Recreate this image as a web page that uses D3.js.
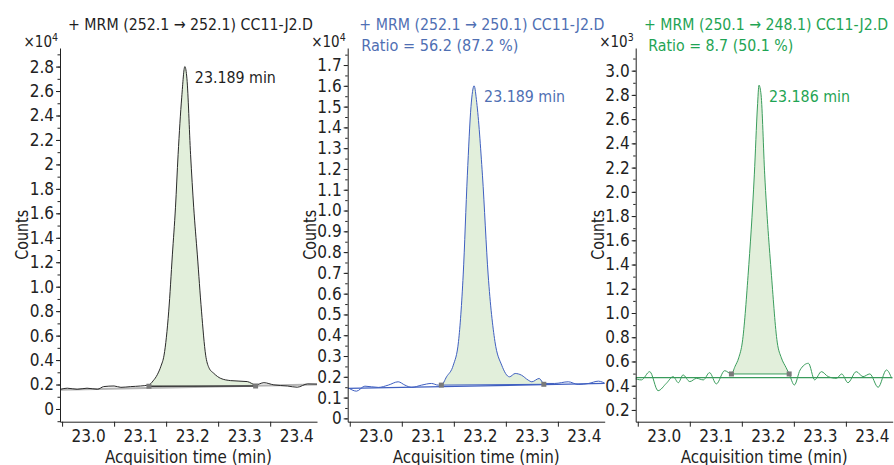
<!DOCTYPE html>
<html>
<head>
<meta charset="utf-8">
<script src="https://cdn.jsdelivr.net/npm/d3@7"></script>
<style>
body{margin:0;background:#fff;}
text{font-family:"Liberation Sans Narrow","DejaVu Sans Condensed","Arial Narrow",sans-serif;}
</style>
</head>
<body>
<svg id="mainSvg" width="894" height="465"></svg>
<script>
// shared x axis
var timeDomain = [22.946, 23.44];
var xTickValues = [23.0, 23.1, 23.2, 23.3, 23.4];
var xTickLabels = ["23.0", "23.1", "23.2", "23.3", "23.4"];
var xMinorTicks = [22.95, 23.05, 23.15, 23.25, 23.35];

// panel 1 : 252.1 -> 252.1
var titles1 = ["+ MRM (252.1 \u2192 252.1) CC11-J2.D"];
var times1 = [22.947,22.96,22.979,22.998,23.018,23.03,23.05,23.063,23.082,23.101,23.117,23.125,23.133,23.14,23.146,23.155,23.162,23.168,23.173,23.18,23.186,23.19,23.197,23.203,23.21,23.218,23.226,23.232,23.242,23.255,23.274,23.306,23.322,23.338,23.357,23.383,23.402,23.422,23.443];
var counts1 = [1610,1700,1610,1700,1610,1830,1880,1770,1830,1880,1970,2300,2800,3500,4400,8000,12600,16500,20800,25500,28000,27000,20800,16500,12600,8000,4400,3400,2900,2500,2320,2240,1970,2150,1970,1880,1780,2050,2030];
var baseline1 = [[22.946, 1580], [23.44, 2000]];
var integration1 = [[23.117, 1860], [23.322, 1880]];
var peak1 = {time: 23.186, count: 28000, label: "23.189 min"};
var yDomain1 = [-1040, 29520];
var yTicks1 = [0,2000,4000,6000,8000,10000,12000,14000,16000,18000,20000,22000,24000,26000,28000];
var yTickLabels1 = ["0","0.2","0.4","0.6","0.8","1.0","1.2","1.4","1.6","1.8","2","2.2","2.4","2.6","2.8"];
var yMinor1 = d3.range(-1000, 29600, 1000);

// panel 2 : 252.1 -> 250.1
var titles2 = ["+ MRM (252.1 \u2192 250.1) CC11-J2.D", "Ratio = 56.2 (87.2 %)"];
var times2 = [22.949,22.963,22.979,23.005,23.024,23.043,23.056,23.069,23.088,23.107,23.12,23.126,23.136,23.149,23.159,23.168,23.176,23.183,23.189,23.194,23.205,23.216,23.229,23.242,23.257,23.268,23.28,23.293,23.30,23.314,23.323,23.344,23.37,23.389,23.409,23.428,23.444];
var counts2 = [1440,1310,1550,1490,1600,1760,1600,1490,1600,1680,1600,1600,2000,2560,3700,6900,11700,15000,16000,15200,11700,6900,3700,2560,2000,2160,2080,1840,1760,1920,1680,1680,1760,1630,1680,1790,1630];
var baseline2 = [[22.946, 1440], [23.44, 1680]];
var integration2 = [[23.126, 1600], [23.323, 1640]];
var peak2 = {time: 23.189, count: 16000, label: "23.189 min"};
var yDomain2 = [-160, 17820];
var yTicks2 = d3.range(0, 17001, 1000);
var yTickLabels2 = ["0","0.1","0.2","0.3","0.4","0.5","0.6","0.7","0.8","0.9","1.0","1.1","1.2","1.3","1.4","1.5","1.6","1.7"];
var yMinor2 = d3.range(0, 17800, 500);

// panel 3 : 250.1 -> 248.1
var titles3 = ["+ MRM (250.1 \u2192 248.1) CC11-J2.D", "Ratio = 8.7 (50.1 %)"];
var times3 = [22.942,22.957,22.973,22.989,23.005,23.018,23.028,23.037,23.05,23.063,23.076,23.088,23.101,23.117,23.13,23.137,23.144,23.151,23.162,23.174,23.18,23.183,23.187,23.194,23.207,23.218,23.226,23.235,23.241,23.251,23.262,23.278,23.29,23.303,23.316,23.332,23.342,23.354,23.37,23.383,23.396,23.412,23.428,23.438];
var counts3 = [461,448,516,359,420,475,425,489,434,461,448,508,415,524,497,560,630,760,1310,2140,2700,2880,2800,2140,1310,760,630,550,497,406,530,585,448,516,475,461,497,425,516,475,497,387,530,461];
var baseline3 = [[22.946, 467], [23.44, 467]];
var integration3 = [[23.13, 497], [23.241, 497]];
var peak3 = {time: 23.183, count: 2880, label: "23.186 min"};
var yDomain3 = [103, 3187];
var yTicks3 = d3.range(200, 3001, 200);
var yTickLabels3 = ["0.2","0.4","0.6","0.8","1.0","1.2","1.4","1.6","1.8","2.0","2.2","2.4","2.6","2.8","3.0"];
var yMinor3 = d3.range(200, 3101, 100);

var plotTop = 48, plotBottom = 421.7, plotWidth = 257;
var fillGreen = "#e2efdb";

var panels = [
    {left: 60, exp: "4", color: "#1e1e1e", line: "#2a2a2a", base: "#b4b4b4", titleX: [8], titleW: [245],
     titles: titles1, times: times1, counts: counts1,
     baseline: baseline1, integration: integration1, peak: peak1, yDomain: yDomain1, yTicks: yTicks1, yLabels: yTickLabels1, yMinor: yMinor1},
    {left: 347.7, exp: "4", color: "#4f6fb3", line: "#3f5fc0", base: "#3f5fc0", titleX: [11.6, 13.6], titleW: [245, 157],
     titles: titles2, times: times2, counts: counts2,
     baseline: baseline2, integration: integration2, peak: peak2, yDomain: yDomain2, yTicks: yTicks2, yLabels: yTickLabels2, yMinor: yMinor2},
    {left: 635.7, exp: "3", color: "#1fa454", line: "#3a9c5c", base: "#3a9c5c", titleX: [8.3, 12.6], titleW: [244, 145],
     titles: titles3, times: times3, counts: counts3,
     baseline: baseline3, integration: integration3, peak: peak3, yDomain: yDomain3, yTicks: yTicks3, yLabels: yTickLabels3, yMinor: yMinor3}
];

var svg = d3.select("#mainSvg");

panels.forEach(function(p, idx){
    drawPanel(p, idx);
});

function drawPanel(p, idx){
    var x = d3.scaleLinear().domain(timeDomain).range([p.left, p.left + plotWidth]);
    var y = d3.scaleLinear().domain(p.yDomain).range([plotBottom, plotTop]);

    var g = svg.append("g").attr("class", "panel panel_" + idx);

    g.append("clipPath")
        .attr("id", "clip_" + idx)
        .append("rect")
        .attr("x", p.left)
        .attr("y", plotTop)
        .attr("width", plotWidth)
        .attr("height", plotBottom - plotTop);

    var plot = g.append("g").attr("clip-path", "url(#clip_" + idx + ")");

    var pts = p.times.map(function(t, i){ return {t: t, c: p.counts[i]}; });

    // integration baseline interpolation
    var b0 = p.integration[0], b1 = p.integration[1];
    function baseAt(t){
        return b0[1] + (b1[1] - b0[1]) * (t - b0[0]) / (b1[0] - b0[0]);
    }
    var peakPts = pts.filter(function(d){ return d.t >= b0[0] - 1e-6 && d.t <= b1[0] + 1e-6; });

    var area = d3.area()
        .x(function(d){ return x(d.t); })
        .y0(function(d){ return y(baseAt(d.t)); })
        .y1(function(d){ return y(d.c); })
        .curve(d3.curveMonotoneX);

    plot.append("path")
        .datum(peakPts)
        .attr("d", area)
        .attr("fill", fillGreen)
        .attr("stroke", "none");

    // fitted baseline across the window
    plot.append("line")
        .attr("x1", x(p.baseline[0][0]))
        .attr("y1", y(p.baseline[0][1]))
        .attr("x2", x(p.baseline[1][0]))
        .attr("y2", y(p.baseline[1][1]))
        .attr("stroke", p.base)
        .attr("stroke-width", idx == 0 ? 2 : 1.2);

    var line = d3.line()
        .x(function(d){ return x(d.t); })
        .y(function(d){ return y(d.c); })
        .curve(d3.curveMonotoneX);

    plot.append("path")
        .datum(pts)
        .attr("d", line)
        .attr("fill", "none")
        .attr("stroke", p.line)
        .attr("stroke-width", 1);

    // integration baseline + end markers
    plot.append("line")
        .attr("x1", x(b0[0]))
        .attr("y1", y(b0[1]))
        .attr("x2", x(b1[0]))
        .attr("y2", y(b1[1]))
        .attr("stroke", idx == 0 ? "#3a3a3a" : p.line)
        .attr("stroke-width", idx == 0 ? 1.6 : 1);

    plot.selectAll(".marker")
        .data(p.integration)
        .enter()
        .append("rect")
        .attr("class", "marker")
        .attr("x", function(d){ return x(d[0]) - 2.5; })
        .attr("y", function(d){ return y(d[1]) - 2.5; })
        .attr("width", 5)
        .attr("height", 5)
        .attr("fill", "#7a7a7a");

    // axes
    var yAxis = d3.axisLeft(y)
        .tickValues(p.yTicks)
        .tickFormat(function(d, i){ return p.yLabels[i]; })
        .tickSize(4)
        .tickSizeOuter(0)
        .tickPadding(2);

    g.append("g")
        .attr("transform", "translate(" + p.left + ",0)")
        .call(yAxis);

    g.append("g")
        .attr("transform", "translate(" + p.left + ",0)")
        .call(d3.axisLeft(y).tickValues(p.yMinor).tickSize(2.5).tickFormat(""))
        .call(function(s){ s.select(".domain").remove(); });

    g.append("g")
        .attr("transform", "translate(0," + plotBottom + ")")
        .call(d3.axisBottom(x)
            .tickValues(xTickValues)
            .tickFormat(function(d, i){ return xTickLabels[i]; })
            .tickSize(0)
            .tickSizeOuter(0)
            .tickPadding(8));

    g.append("g")
        .attr("transform", "translate(0," + plotBottom + ")")
        .call(d3.axisBottom(x).tickValues(xMinorTicks).tickSize(5).tickFormat(""))
        .call(function(s){ s.select(".domain").remove(); });

    g.selectAll(".tick text")
        .attr("font-size", "17px")
        .attr("font-family", null)
        .attr("fill", "#222");
    g.selectAll(".domain, .tick line")
        .attr("stroke", "#222");

    // exponent
    var expText = g.append("text")
        .attr("x", p.left - 2)
        .attr("y", 47)
        .attr("text-anchor", "end")
        .attr("font-size", "15px")
        .attr("fill", "#222");
    expText.append("tspan").text("\u00d710");
    expText.append("tspan")
        .attr("dy", "-6")
        .attr("font-size", "10.5px")
        .text(p.exp);

    // titles
    g.selectAll(".panelTitle")
        .data(p.titles)
        .enter()
        .append("text")
        .attr("class", "panelTitle")
        .attr("x", function(d, i){ return p.left + p.titleX[i]; })
        .attr("y", function(d, i){ return 29.5 + i * 21.5; })
        .attr("font-size", "16px")
        .attr("textLength", function(d, i){ return p.titleW[i]; })
        .attr("lengthAdjust", "spacingAndGlyphs")
        .attr("fill", p.color)
        .text(function(d){ return d; });

    // peak label
    g.append("text")
        .attr("x", x(p.peak.time) + 10)
        .attr("y", y(p.peak.count) + 16.5)
        .attr("font-size", "16px")
        .attr("textLength", 81)
        .attr("lengthAdjust", "spacingAndGlyphs")
        .attr("fill", p.color)
        .text(p.peak.label);

    // axis titles
    g.append("text")
        .attr("transform", "translate(" + (p.left - 32) + "," + ((plotTop + plotBottom) / 2) + ") rotate(-90)")
        .attr("text-anchor", "middle")
        .attr("font-size", "17px")
        .attr("textLength", 50)
        .attr("lengthAdjust", "spacingAndGlyphs")
        .attr("fill", "#222")
        .text("Counts");

    g.append("text")
        .attr("x", p.left + plotWidth / 2)
        .attr("y", 462.5)
        .attr("text-anchor", "middle")
        .attr("font-size", "17px")
        .attr("textLength", 167)
        .attr("lengthAdjust", "spacingAndGlyphs")
        .attr("fill", "#222")
        .text("Acquisition time (min)");
}
</script>
</body>
</html>
